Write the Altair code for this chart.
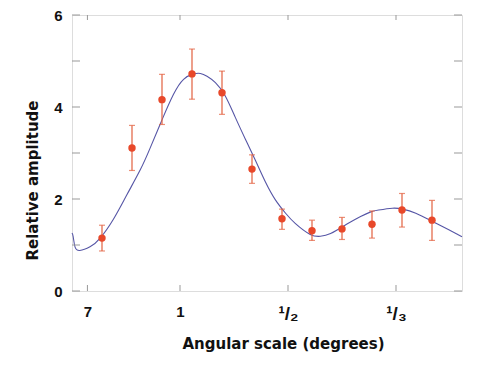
import altair as alt
import pandas as pd

# measured points (x = multipole-like scale, 180 / angle in degrees)
ell = [50, 100, 150, 200, 250, 300, 350, 400, 450, 500, 550, 600]
amp = [1.15, 3.11, 4.16, 4.72, 4.31, 2.65, 1.57, 1.31, 1.35, 1.45, 1.76, 1.54]
err_hi = [1.43, 3.60, 4.71, 5.26, 4.78, 2.96, 1.78, 1.54, 1.60, 1.74, 2.12, 1.97]
err_lo = [0.87, 2.62, 3.62, 4.17, 3.84, 2.34, 1.34, 1.10, 1.12, 1.15, 1.39, 1.10]

# model curve
curve_ell = [0, 2, 5, 13, 30, 47, 69, 91, 114, 130, 150, 169, 186, 203, 214, 225,
             239, 255, 272, 289, 306, 322, 339, 356, 372, 397, 414, 431, 459, 481,
             498, 511, 534, 551, 573, 601, 628, 650]
curve_amp = [1.26, 1.18, 0.96, 0.88, 0.96, 1.15, 1.56, 2.08, 2.64, 3.10, 3.72, 4.27,
             4.60, 4.72, 4.73, 4.67, 4.53, 4.25, 3.78, 3.30, 2.83, 2.38, 1.98, 1.69,
             1.47, 1.23, 1.19, 1.25, 1.46, 1.62, 1.72, 1.76, 1.80, 1.78, 1.69, 1.51,
             1.33, 1.18]

x_tick_values = [180 / 7, 180, 360, 540]
x_tick_labels = ["7", "1", "\u00b9/\u2082", "\u00b9/\u2083"]
y_tick_values = [0, 1, 2, 3, 4, 5, 6]
y_label_values = [0, 2, 4, 6]

W, H = 390, 276
X_DOMAIN = [0, 650]
Y_DOMAIN = [0, 6]

pts = pd.DataFrame({"ell": ell, "amp": amp, "hi": err_hi, "lo": err_lo})
curve = pd.DataFrame({"ell": curve_ell, "amp": curve_amp})
yt = pd.DataFrame({"v": y_tick_values})
xt = pd.DataFrame({"v": x_tick_values})

label_expr = " : ".join(
    f"abs(datum.value - {v}) < 1 ? '{l}'" for v, l in zip(x_tick_values, x_tick_labels)
) + " : ''"

xs = alt.Scale(domain=X_DOMAIN, nice=False, zero=False)
ys = alt.Scale(domain=Y_DOMAIN, nice=False)

TITLE_FONT = "DejaVu Sans"
LABEL_FONT = "Liberation Sans"

x_axis = alt.Axis(
    values=x_tick_values, labelExpr=label_expr, ticks=False, domain=False, grid=False,
    labelFont=LABEL_FONT,
    labelFontSize={"condition": {"test": "datum.value > 300", "value": 19}, "value": 15},
    labelFontWeight="bold", labelColor="#111111",
    labelPadding=13, labelBaseline="top",
    title="Angular scale (degrees)", titleFont=TITLE_FONT, titleFontSize=15,
    titleFontWeight="bold", titleColor="#111111", titleX=211, titleY=52,
    titleBaseline="middle", titleAlign="center",
)
y_axis = alt.Axis(
    values=y_label_values, ticks=False, domain=False, grid=False,
    labelFont=LABEL_FONT, labelFontSize=15, labelFontWeight="bold", labelColor="#111111",
    labelPadding=10,
    title="Relative amplitude", titleFont=TITLE_FONT, titleFontSize=15,
    titleFontWeight="bold", titleColor="#111111", titleAngle=-90, titleX=-40, titleY=165,
    titleBaseline="middle", titleAlign="center",
)

line = alt.Chart(curve).mark_line(color="#5656a6", strokeWidth=1.1, interpolate="natural").encode(
    x=alt.X("ell:Q", scale=xs, axis=x_axis),
    y=alt.Y("amp:Q", scale=ys, axis=y_axis),
)

err_color = "#e2603e"
bars = alt.Chart(pts).mark_rule(color=err_color, strokeWidth=1.2).encode(
    x=alt.X("ell:Q", scale=xs), y=alt.Y("lo:Q", scale=ys), y2="hi:Q"
)
cap_hi = alt.Chart(pts).mark_tick(color=err_color, orient="horizontal", size=6, thickness=1.2).encode(
    x=alt.X("ell:Q", scale=xs), y=alt.Y("hi:Q", scale=ys)
)
cap_lo = alt.Chart(pts).mark_tick(color=err_color, orient="horizontal", size=6, thickness=1.2).encode(
    x=alt.X("ell:Q", scale=xs), y=alt.Y("lo:Q", scale=ys)
)
dots = alt.Chart(pts).mark_point(filled=True, color="#e8482a", size=55, opacity=1).encode(
    x=alt.X("ell:Q", scale=xs), y=alt.Y("amp:Q", scale=ys)
)

tick_color = "#999999"
left_t = alt.Chart(yt).mark_rule(color=tick_color).encode(
    y=alt.Y("v:Q", scale=ys), x=alt.value(0), x2=alt.value(8)
)
right_t = alt.Chart(yt).mark_rule(color=tick_color).encode(
    y=alt.Y("v:Q", scale=ys), x=alt.value(W - 8), x2=alt.value(W)
)
bot_t = alt.Chart(xt).mark_rule(color=tick_color).encode(
    x=alt.X("v:Q", scale=xs), y=alt.value(H - 6), y2=alt.value(H)
)
top_t = alt.Chart(xt).mark_rule(color=tick_color).encode(
    x=alt.X("v:Q", scale=xs), y=alt.value(0), y2=alt.value(5)
)

chart = alt.layer(line, left_t, right_t, bot_t, top_t, bars, cap_hi, cap_lo, dots).properties(
    width=W, height=H,
    padding={"left": 64, "top": 7, "right": 10, "bottom": 70},
    autosize=alt.AutoSizeParams(type="none"),
).configure_view(stroke="#999999", strokeWidth=1).configure(background="white")

chart.save("out.html", embed_options={"renderer": "svg", "actions": False})
